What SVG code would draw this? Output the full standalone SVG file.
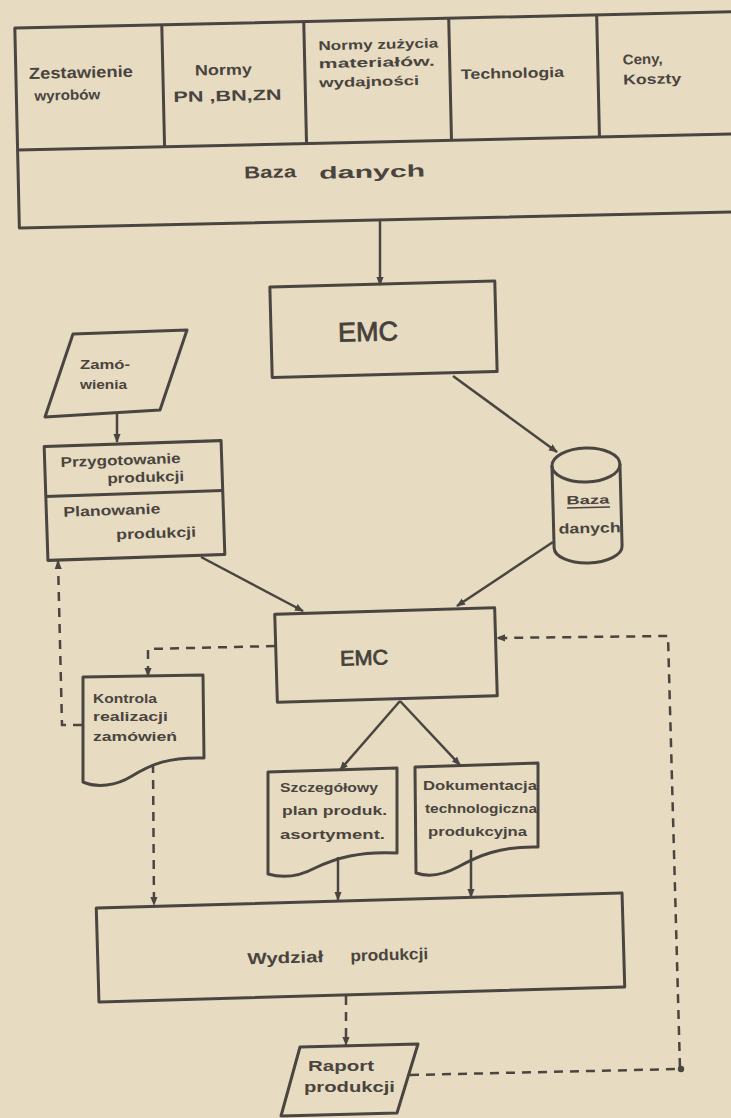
<svg xmlns="http://www.w3.org/2000/svg" width="731" height="1118" viewBox="0 0 731 1118">
<style>
.box{fill:none;stroke:#4a4540;stroke-width:3;stroke-linejoin:round}
.t{font-family:"Liberation Sans",Arial,sans-serif;font-weight:bold;fill:#4a443e}
.e{font-family:"Liberation Sans",Arial,sans-serif;font-weight:normal;fill:#46413b;stroke:#46413b;stroke-width:0.8}
.c{fill:none;stroke:#4a4540;stroke-width:2.5}
.d{stroke-dasharray:9 7}
</style>
<defs>
<marker id="ah" viewBox="0 0 10 10" refX="9" refY="5" markerWidth="9" markerHeight="9" markerUnits="userSpaceOnUse" orient="auto">
<path d="M0,1 L10,5 L0,9 Z" fill="#4a4540"/>
</marker>
</defs>
<rect width="731" height="1118" fill="#e7dcc2"/>

<!-- source data table -->
<g id="data-table" transform="rotate(-1.3 373 120)">
<rect class="box" x="17" y="20" width="745" height="200"/>
<line class="box" x1="17" y1="142" x2="762" y2="142"/>
<line class="box" x1="164" y1="20" x2="164" y2="142"/>
<line class="box" x1="306" y1="20" x2="306" y2="142"/>
<line class="box" x1="451" y1="20" x2="451" y2="142"/>
<line class="box" x1="599" y1="20" x2="599" y2="142"/>
<text class="t" x="30" y="71.3" font-size="16" textLength="104" lengthAdjust="spacingAndGlyphs">Zestawienie</text>
<text class="t" x="35" y="93" font-size="14" textLength="66" lengthAdjust="spacingAndGlyphs">wyrobów</text>
<text class="t" x="196" y="71.6" font-size="15" textLength="57" lengthAdjust="spacingAndGlyphs">Normy</text>
<text class="t" x="174" y="97.6" font-size="15" textLength="108" lengthAdjust="spacingAndGlyphs">PN ,BN,ZN</text>
<text class="t" x="320" y="49" font-size="13" textLength="120" lengthAdjust="spacingAndGlyphs">Normy zużycia</text>
<text class="t" x="320" y="67" font-size="13" textLength="116" lengthAdjust="spacingAndGlyphs">materiałów.</text>
<text class="t" x="320" y="86" font-size="13" textLength="100" lengthAdjust="spacingAndGlyphs">wydajności</text>
<text class="t" x="462" y="81.2" font-size="14" textLength="103" lengthAdjust="spacingAndGlyphs">Technologia</text>
<text class="t" x="624" y="70.2" font-size="14" textLength="40" lengthAdjust="spacingAndGlyphs">Ceny,</text>
<text class="t" x="624" y="90.2" font-size="14" textLength="58" lengthAdjust="spacingAndGlyphs">Koszty</text>
<text class="t" x="243" y="175.5" font-size="17" textLength="52" lengthAdjust="spacingAndGlyphs">Baza</text>
<text class="t" x="318" y="177.5" font-size="17" textLength="106" lengthAdjust="spacingAndGlyphs">danych</text>
</g>

<g id="emc-1" transform="rotate(-1.5 383.5 329.3)">
<rect class="box" x="271" y="284" width="225" height="90.5"/>
<text class="e" x="368" y="340.6" font-size="27" text-anchor="middle" textLength="60" lengthAdjust="spacingAndGlyphs">EMC</text>
</g>

<g id="zamowienia">
<polygon class="box" points="73,334 187,330 160,410 45,417"/>
<text class="t" x="80" y="369" font-size="13" textLength="50" lengthAdjust="spacingAndGlyphs">Zamó-</text>
<text class="t" x="80" y="389" font-size="13" textLength="47" lengthAdjust="spacingAndGlyphs">wienia</text>
</g>

<g id="przygotowanie" transform="rotate(-1.9 134.5 500.5)">
<rect class="box" x="46" y="443.5" width="177" height="114"/>
<line class="box" x1="46" y1="493.5" x2="223" y2="493.5"/>
<text class="t" x="62" y="464.6" font-size="14" textLength="120" lengthAdjust="spacingAndGlyphs">Przygotowanie</text>
<text class="t" x="108" y="482.4" font-size="14" textLength="77" lengthAdjust="spacingAndGlyphs">produkcji</text>
<text class="t" x="63" y="514.4" font-size="14" textLength="97" lengthAdjust="spacingAndGlyphs">Planowanie</text>
<text class="t" x="115" y="538.7" font-size="14" textLength="80" lengthAdjust="spacingAndGlyphs">produkcji</text>
</g>

<g id="baza-danych" transform="rotate(-1.5 587 505)">
<path class="box" d="M553,465 L553,547 A34,16 0 0 0 621,547 L621,465"/>
<ellipse class="box" cx="587" cy="465" rx="34" ry="17"/>
<text class="t" x="588" y="504" font-size="12" text-anchor="middle" textLength="43" lengthAdjust="spacingAndGlyphs">Baza</text>
<line x1="567" y1="507.5" x2="610" y2="507.5" stroke="#4a443e" stroke-width="1.5"/>
<text class="t" x="589" y="533" font-size="14" text-anchor="middle" textLength="62" lengthAdjust="spacingAndGlyphs">danych</text>
</g>

<g id="emc-2" transform="rotate(-1.7 386 655)">
<rect class="box" x="276" y="611" width="220" height="88"/>
<text class="e" x="364" y="664.3" font-size="21" text-anchor="middle" textLength="48" lengthAdjust="spacingAndGlyphs">EMC</text>
</g>

<g id="kontrola">
<path class="box" d="M83,677 L203,675 L204,758 C168,757 152,764 132,776 C116,786 97,788 83,782 Z"/>
<text class="t" x="93" y="703" font-size="13" textLength="64" lengthAdjust="spacingAndGlyphs">Kontrola</text>
<text class="t" x="93" y="721" font-size="13" textLength="75" lengthAdjust="spacingAndGlyphs">realizacji</text>
<text class="t" x="93" y="741" font-size="13" textLength="84" lengthAdjust="spacingAndGlyphs">zamówień</text>
</g>

<g id="plan-produkcji">
<path class="box" d="M268,772 L397,768 L397,853 C360,851 336,858 315,868 C300,876 285,879 268,874 Z"/>
<text class="t" x="280" y="792" font-size="12.5" textLength="98" lengthAdjust="spacingAndGlyphs">Szczegółowy</text>
<text class="t" x="282" y="815" font-size="12.5" textLength="105" lengthAdjust="spacingAndGlyphs">plan produk.</text>
<text class="t" x="280" y="839" font-size="12.5" textLength="105" lengthAdjust="spacingAndGlyphs">asortyment.</text>
</g>

<g id="dokumentacja">
<path class="box" d="M415,767 L538,763 L538,847 C500,846 478,856 458,867 C443,875 428,877 416,873 Z"/>
<text class="t" x="423" y="790" font-size="12" textLength="114" lengthAdjust="spacingAndGlyphs">Dokumentacja</text>
<text class="t" x="425" y="813" font-size="12" textLength="112" lengthAdjust="spacingAndGlyphs">technologiczna</text>
<text class="t" x="428" y="836" font-size="12" textLength="99" lengthAdjust="spacingAndGlyphs">produkcyjna</text>
</g>

<g id="wydzial" transform="rotate(-1.64 360.5 947.5)">
<rect class="box" x="97.5" y="900.5" width="526" height="94"/>
<text class="t" x="247" y="961" font-size="16" textLength="76" lengthAdjust="spacingAndGlyphs">Wydział</text>
<text class="t" x="350" y="961" font-size="16" textLength="78" lengthAdjust="spacingAndGlyphs">produkcji</text>
</g>

<g id="raport">
<polygon class="box" points="300,1047 418,1044 397,1113 281,1116"/>
<text class="t" x="308" y="1071" font-size="14" textLength="66" lengthAdjust="spacingAndGlyphs">Raport</text>
<text class="t" x="304" y="1092" font-size="14" textLength="91" lengthAdjust="spacingAndGlyphs">produkcji</text>
</g>

<g id="connectors">
<line class="c" x1="380" y1="220" x2="380" y2="285" marker-end="url(#ah)"/>
<line class="c" x1="117" y1="414" x2="117" y2="442" marker-end="url(#ah)"/>
<line class="c" x1="453" y1="376" x2="557" y2="452" marker-end="url(#ah)"/>
<line class="c" x1="201" y1="557" x2="303" y2="611" marker-end="url(#ah)"/>
<line class="c" x1="553" y1="542" x2="457" y2="606" marker-end="url(#ah)"/>
<line class="c" x1="400" y1="701" x2="340" y2="770" marker-end="url(#ah)"/>
<line class="c" x1="400" y1="701" x2="460" y2="765" marker-end="url(#ah)"/>
<line class="c" x1="338" y1="857" x2="338" y2="900" marker-end="url(#ah)"/>
<line class="c" x1="471" y1="850" x2="471" y2="897" marker-end="url(#ah)"/>
<path class="c d" d="M275,646 L148,649 L148,676" marker-end="url(#ah)"/>
<path class="c d" d="M82,725 L62,725 L58,561" marker-end="url(#ah)"/>
<path class="c d" d="M153,764 L154,905" marker-end="url(#ah)"/>
<path class="c d" d="M346,996 L346,1045" marker-end="url(#ah)"/>
<path class="c d" d="M410,1075 L680,1069 L668,636 L497,638" marker-end="url(#ah)"/>
<circle cx="681" cy="1069" r="3.2" fill="#4a4540"/>
</g>
</svg>
